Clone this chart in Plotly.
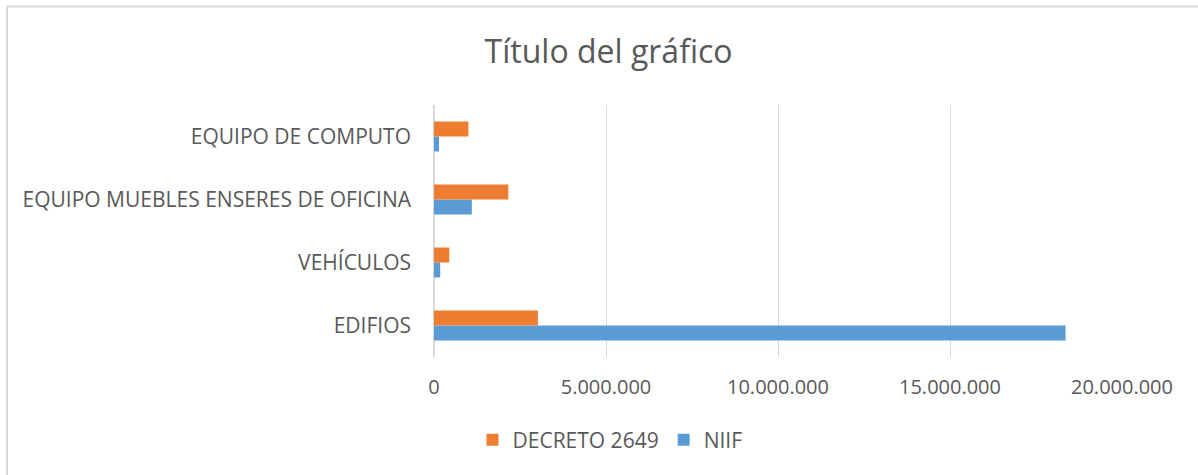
import plotly.graph_objects as go

categories = ["EDIFIOS", "VEHÍCULOS", "EQUIPO MUEBLES ENSERES DE OFICINA", "EQUIPO DE COMPUTO"]
niif = [18360000, 180000, 1100000, 145000]
decreto = [3020000, 445000, 2160000, 1000000]
tick_vals = [0, 5000000, 10000000, 15000000, 20000000]
tick_text = ["0", "5.000.000", "10.000.000", "15.000.000", "20.000.000"]

FONT = "Open Sans"
GRAY = "#595959"
PL, PR, PT, PB = 434, 1122, 105, 357
PW, PH = PR - PL, PB - PT

fig = go.Figure()
fig.add_trace(go.Bar(y=categories, x=niif, name="NIIF", orientation="h",
                     marker=dict(color="#5B9BD5", line=dict(width=0))))
fig.add_trace(go.Bar(y=categories, x=decreto, name="DECRETO 2649", orientation="h",
                     marker=dict(color="#ED7D31", line=dict(width=0))))

fig.update_layout(
    width=1198, height=475,
    margin=dict(l=PL, r=1198 - PR, t=PT, b=475 - PB),
    paper_bgcolor="white", plot_bgcolor="white",
    barmode="group", bargap=0.524, bargroupgap=0,
    font=dict(family=FONT, color=GRAY, size=21),
    title=dict(text="Título del gráfico", x=0.508, xanchor="center",
               y=1 - 52 / 475, yanchor="middle",
               font=dict(family=FONT, size=32, color=GRAY)),
    showlegend=True,
    legend=dict(orientation="h", traceorder="reversed",
                x=(610 - PL) / PW, xanchor="center",
                y=(PB - 440) / PH, yanchor="middle",
                font=dict(family=FONT, size=21, color=GRAY),
                itemwidth=30),
    xaxis=dict(range=[0, 20000000], tickvals=tick_vals, ticktext=tick_text,
               showgrid=True, gridcolor="#d9d9d9", gridwidth=1,
               zeroline=True, zerolinecolor="#d9d9d9", zerolinewidth=2,
               showline=False, ticks="", ticklabelstandoff=16,
               tickfont=dict(family=FONT, size=20, color=GRAY)),
    yaxis=dict(showgrid=False, zeroline=False, showline=False, ticks="",
               ticklabelstandoff=22,
               tickfont=dict(family=FONT, size=21, color=GRAY)),
    shapes=[
        dict(type="line", xref="paper", yref="paper",
             x0=(7 - PL) / PW, x1=(1210 - PL) / PW,
             y0=(PB - 6.5) / PH, y1=(PB - 6.5) / PH,
             line=dict(color="#d9d9d9", width=2)),
        dict(type="line", xref="paper", yref="paper",
             x0=(7 - PL) / PW, x1=(7 - PL) / PW,
             y0=(PB - 6.5) / PH, y1=(PB - 490) / PH,
             line=dict(color="#d9d9d9", width=2)),
    ],
)

fig.write_html("out.html", config={"displayModeBar": False},
               post_script="document.body.style.margin='0';")
